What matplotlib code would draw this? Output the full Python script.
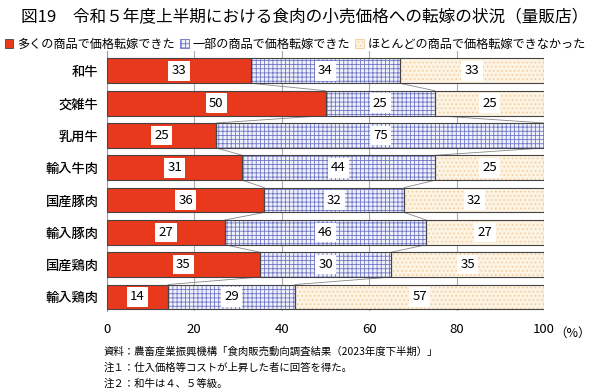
import numpy as np
import matplotlib
matplotlib.use('Agg')
import matplotlib.pyplot as plt
from matplotlib.patches import Patch

plt.rcParams['font.family'] = ['Noto Sans CJK JP', 'DejaVu Sans']
plt.rcParams['hatch.linewidth'] = 0.6

# データ
categories = ['和牛', '交雑牛', '乳用牛', '輸入牛肉', '国産豚肉', '輸入豚肉', '国産鶏肉', '輸入鶏肉']
many = [33, 50, 25, 31, 36, 27, 35, 14]
some = [34, 25, 75, 44, 32, 46, 30, 29]
few = [33, 25, 0, 25, 32, 27, 35, 57]
series_names = ['多くの商品で価格転嫁できた', '一部の商品で価格転嫁できた', 'ほとんどの商品で価格転嫁できなかった']
xticks = [0, 20, 40, 60, 80, 100]
title = '図19　令和５年度上半期における食肉の小売価格への転嫁の状況（量販店）'
notes = ['資料：農畜産業振興機構「食肉販売動向調査結果（2023年度下半期）」',
         '注１：仕入価格等コストが上昇した者に回答を得た。',
         '注２：和牛は４、５等級。']

# スタイル (face, hatch, hatch color)
styles = [('#e8391d', None, '#e8391d'),
          ('#eef0fa', '++++', '#7076c6'),
          ('#fdf3e2', '....', '#f2c99a')]

fig = plt.figure(figsize=(6, 3.91), dpi=100)
ax = fig.add_axes([0.178, 0.205, 0.729, 0.665])

y = np.arange(len(categories))
data = [np.array(many), np.array(some), np.array(few)]
h = 0.77
left = np.zeros(len(categories))
for vals, (fc, hatch, hc) in zip(data, styles):
    ax.barh(y, vals, left=left, height=h, color=fc, hatch=hatch,
            edgecolor=hc, linewidth=0, zorder=2)
    ax.barh(y, vals, left=left, height=h, fill=False,
            edgecolor='#444444', linewidth=0.8, zorder=3)
    for yi, v, l in zip(y, vals, left):
        if v > 0:
            ax.text(l + v / 2, yi, str(v), ha='center', va='center', fontsize=9.5,
                    zorder=5, bbox=dict(boxstyle='square,pad=0.25', fc='white', ec='none'))
    left = left + vals

# 区分線
c1 = data[0]
c2 = data[0] + data[1]
for cum in (c1, c2):
    for i in range(len(categories) - 1):
        ax.plot([cum[i], cum[i + 1]], [y[i] + h / 2, y[i + 1] - h / 2],
                color='#888888', linewidth=0.6, zorder=1)

ax.set_xlim(0, 100)
ax.set_ylim(7.43, -0.62)
ax.set_yticks(y)
ax.set_yticklabels(categories, fontsize=9.5, fontweight='medium')
ax.set_xticks(xticks)
ax.set_xticklabels([str(t) for t in xticks], fontsize=9.5)
ax.tick_params(axis='both', length=0, pad=6)
ax.tick_params(axis='x', pad=9)
ax.xaxis.grid(True, color='#aaaaaa', linewidth=0.8, zorder=0)
ax.set_axisbelow(True)
for s in ['top', 'right', 'bottom']:
    ax.spines[s].set_visible(False)
ax.spines['left'].set_color('#999999')
ax.text(1.024, -0.085, '（%）', transform=ax.transAxes, fontsize=9, va='center', ha='left')

fig.text(0.035, 0.955, title, fontsize=12, va='center', ha='left')

handles = [Patch(facecolor=fc, hatch=hatch, edgecolor=hc if hatch else '#444444', linewidth=0.6)
           for fc, hatch, hc in styles]
fig.legend(handles, series_names, loc='center left', bbox_to_anchor=(0.0, 0.887), ncol=3,
           frameon=False, fontsize=8.75, handlelength=0.7, handleheight=0.7,
           handletextpad=0.3, columnspacing=0.45, borderaxespad=0)

for i, n in enumerate(notes):
    fig.text(0.172, 0.1 - i * 0.04, n, fontsize=7.5, va='center', ha='left')

fig.savefig('out.png', dpi=100)
